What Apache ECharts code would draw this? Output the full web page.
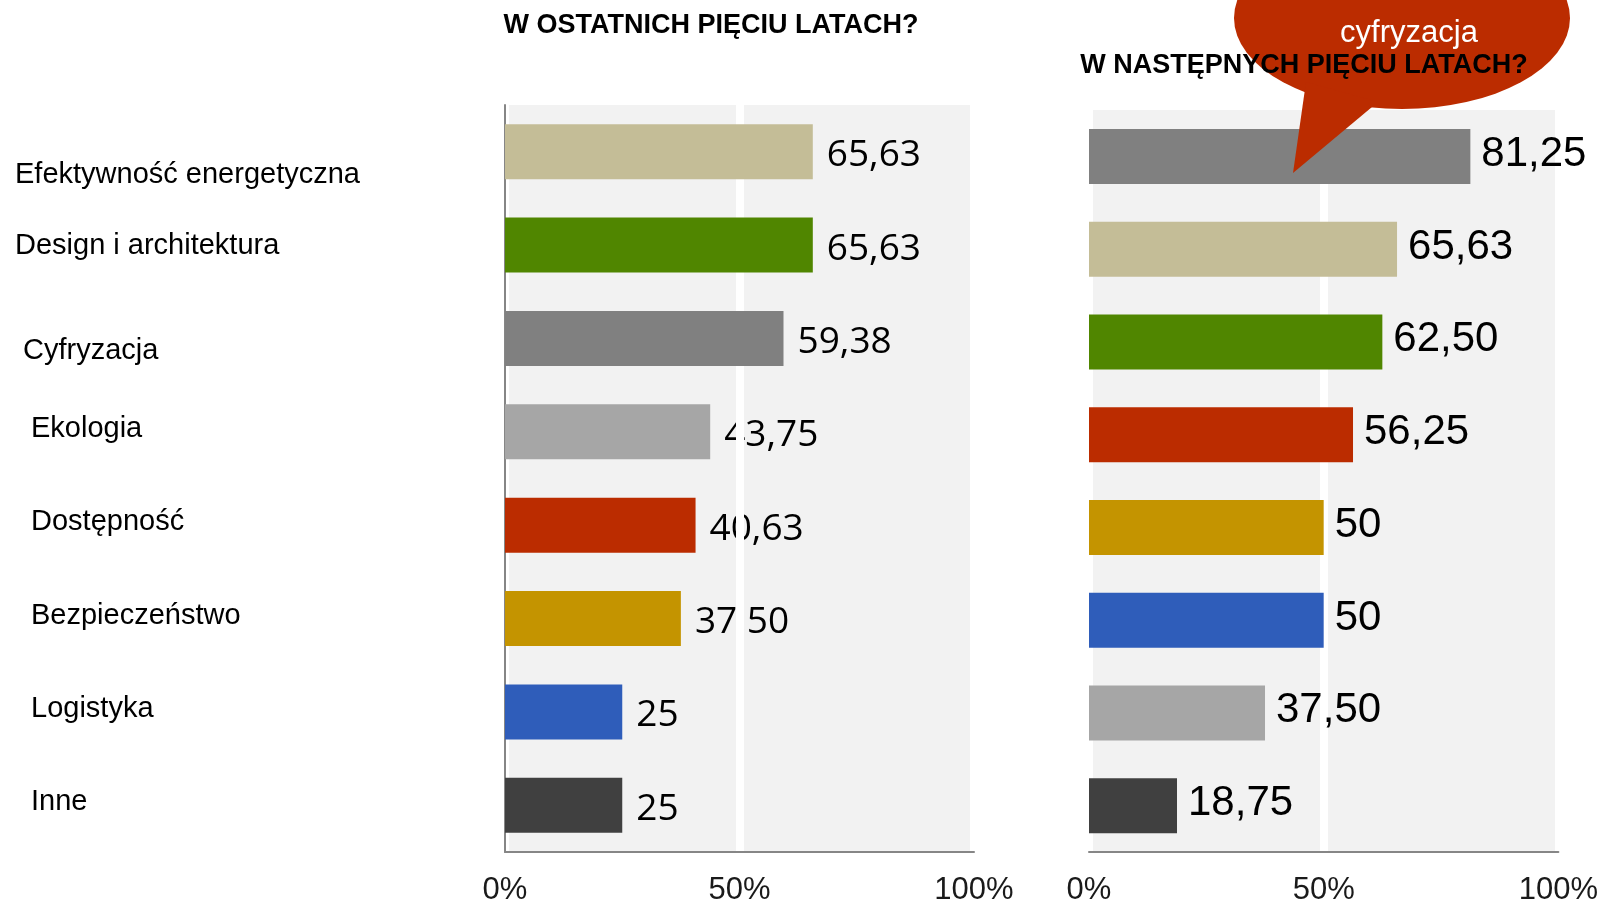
<!DOCTYPE html>
<html>
<head>
<meta charset="utf-8">
<script src="https://cdn.jsdelivr.net/npm/echarts@6/dist/echarts.min.js"></script>
<style>
  html, body { margin: 0; padding: 0; background: #fff; }
  #main { width: 1601px; height: 906px; }
</style>
</head>
<body>
<div id="main"></div>
<script>
var leftTitle = 'W OSTATNICH PIĘCIU LATACH?';
var rightTitle = 'W NASTĘPNYCH PIĘCIU LATACH?';
var bubbleText = 'cyfryzacja';

var leftCategories = ['Efektywność energetyczna', 'Design i architektura', 'Cyfryzacja', 'Ekologia', 'Dostępność', 'Bezpieczeństwo', 'Logistyka', 'Inne'];
var leftValues = [65.63, 65.63, 59.38, 43.75, 40.63, 37.50, 25, 25];

var rightCategories = ['Cyfryzacja', 'Efektywność energetyczna', 'Design i architektura', 'Dostępność', 'Bezpieczeństwo', 'Logistyka', 'Ekologia', 'Inne'];
var rightValues = [81.25, 65.63, 62.50, 56.25, 50, 50, 37.50, 18.75];

var axisTicks = [0, 50, 100];

// kolor każdej kategorii (taki sam na obu wykresach)
var colorOf = {
  'Efektywność energetyczna': '#c4bd97',
  'Design i architektura': '#508600',
  'Cyfryzacja': '#808080',
  'Ekologia': '#a6a6a6',
  'Dostępność': '#bb2c00',
  'Bezpieczeństwo': '#c49400',
  'Logistyka': '#2f5dba',
  'Inne': '#404040'
};

function fmt(v) {
  return Number.isInteger(v) ? String(v) : v.toFixed(2).replace('.', ',');
}

function coloredData(cats, vals) {
  return vals.map(function (v, i) {
    return { value: v, itemStyle: { color: colorOf[cats[i]] } };
  });
}

var chart = echarts.init(document.getElementById('main'), null, { renderer: 'canvas' });

function valueAxis(gridIndex, z) {
  return {
    type: 'value',
    gridIndex: gridIndex,
    min: axisTicks[0],
    max: axisTicks[axisTicks.length - 1],
    interval: axisTicks[1] - axisTicks[0],
    z: z,
    axisLine: { show: true, lineStyle: { color: '#868686', width: 2 } },
    axisTick: { show: false },
    splitLine: { show: true, lineStyle: { color: '#ffffff', width: 8 } },
    axisLabel: {
      formatter: '{value}%',
      margin: 23,
      color: '#1a1a1a',
      fontFamily: 'Liberation Sans',
      fontSize: 31
    }
  };
}

var catFont = { fontFamily: 'Liberation Sans', fontSize: 29, color: '#000' };

// etykiety kategorii jak w pole tekstowym oryginału - lekko przesunięte
function catStyle(i, v) {
  if (i === 0) return 'e';
  if (i === 1) return 'd';
  if (v === 'Cyfryzacja') return 'b';
  return 'c';
}

var option = {
  backgroundColor: '#ffffff',
  animation: false,
  grid: [
    { left: 505, top: 105, width: 469, height: 750, show: true, backgroundColor: '#f2f2f2', borderWidth: 0 },
    { left: 1089, top: 110, width: 472, height: 749, show: true, backgroundColor: '#f2f2f2', borderWidth: 0 }
  ],
  xAxis: [
    valueAxis(0, 1.5),
    valueAxis(1, 0)
  ],
  yAxis: [
    {
      type: 'category',
      gridIndex: 0,
      inverse: true,
      data: leftCategories,
      z: 1.5,
      axisLine: { show: true, lineStyle: { color: '#868686', width: 2 } },
      axisTick: { show: false },
      axisLabel: {
        align: 'left',
        margin: 490,
        formatter: function (v, i) {
          return '{' + catStyle(i, v) + '|' + v + '}';
        },
        rich: {
          e: Object.assign({ padding: [46, 0, 0, 0] }, catFont),
          d: Object.assign({ padding: [2, 0, 0, 0] }, catFont),
          b: Object.assign({ padding: [26, 0, 0, 8] }, catFont),
          c: Object.assign({ padding: [0, 0, 6, 16] }, catFont)
        }
      }
    },
    {
      type: 'category',
      gridIndex: 1,
      inverse: true,
      data: rightCategories,
      axisLine: { show: false },
      axisTick: { show: false },
      axisLabel: { show: false }
    }
  ],
  series: [
    {
      // tylko etykiety lewego wykresu - leżą pod białą linią 50%
      type: 'bar',
      xAxisIndex: 0,
      yAxisIndex: 0,
      z: 1,
      barWidth: 55,
      barGap: '-100%',
      silent: true,
      itemStyle: { color: 'rgba(0,0,0,0)' },
      label: {
        show: true,
        position: 'right',
        distance: 14,
        offset: [0, 4],
        formatter: function (p) { return fmt(p.value); },
        color: '#000',
        fontFamily: 'Open Sans',
        fontSize: 37
      },
      data: leftValues
    },
    {
      type: 'bar',
      xAxisIndex: 0,
      yAxisIndex: 0,
      z: 2,
      barWidth: 55,
      barGap: '-100%',
      label: { show: false },
      data: coloredData(leftCategories, leftValues)
    },
    {
      type: 'bar',
      xAxisIndex: 1,
      yAxisIndex: 1,
      z: 2,
      barWidth: 55,
      label: {
        show: true,
        position: 'right',
        distance: 11,
        offset: [0, -2],
        formatter: function (p) { return fmt(p.value); },
        color: '#000',
        fontFamily: 'Liberation Sans',
        fontSize: 42
      },
      data: coloredData(rightCategories, rightValues)
    }
  ],
  graphic: [
    {
      type: 'text',
      z: 100,
      x: 711,
      y: 26,
      style: { text: leftTitle, fill: '#000', font: 'bold 27px "Liberation Sans"', textAlign: 'center', textVerticalAlign: 'middle' }
    },
    {
      type: 'circle',
      z: 50,
      x: 1402,
      y: 18,
      scaleY: 91 / 168,
      shape: { cx: 0, cy: 0, r: 168 },
      style: { fill: '#bb2c00' }
    },
    {
      type: 'polygon',
      z: 50,
      shape: { points: [[1306, 82], [1378, 102], [1293, 173]] },
      style: { fill: '#bb2c00' }
    },
    {
      type: 'text',
      z: 60,
      x: 1409,
      y: 33,
      style: { text: bubbleText, fill: '#ffffff', font: '31px "Liberation Sans"', textAlign: 'center', textVerticalAlign: 'middle' }
    },
    {
      type: 'text',
      z: 100,
      x: 1304,
      y: 66,
      style: { text: rightTitle, fill: '#000', font: 'bold 27px "Liberation Sans"', textAlign: 'center', textVerticalAlign: 'middle' }
    }
  ]
};

chart.setOption(option);
</script>
</body>
</html>
